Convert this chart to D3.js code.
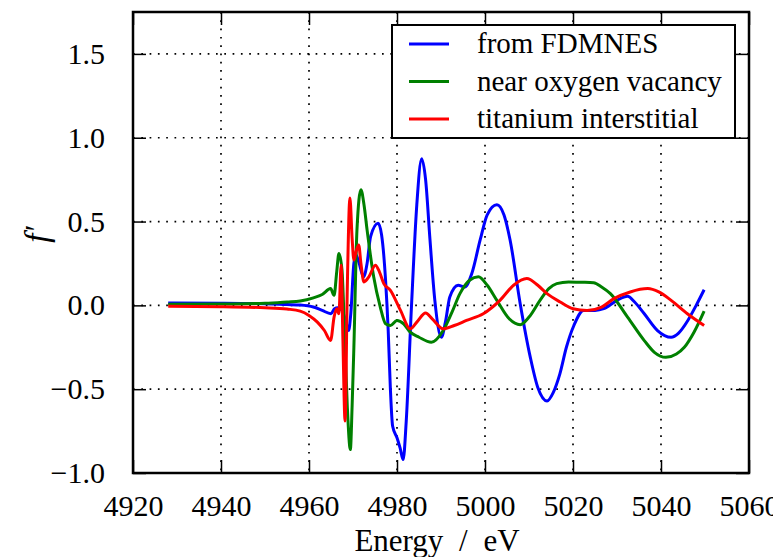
<!DOCTYPE html>
<html>
<head>
<meta charset="utf-8">
<script src="https://cdn.jsdelivr.net/npm/d3@7"></script>
<style>
  html, body { margin: 0; padding: 0; background: #fff; }
  svg { display: block; }
  text { font-family: "Liberation Serif", "DejaVu Serif", serif; fill: #000; }
</style>
</head>
<body>
<svg id="chart" width="773" height="557"></svg>
<script>
// ---- data ----
const seriesNames = ["from FDMNES", "near oxygen vacancy", "titanium interstitial"];
const seriesColors = ["#0000ff", "#008000", "#ff0000"];

const blueE = [4928,4940,4950,4955,4958,4961,4963,4965,4965.8,4966.5,4967.5,4968.3,4969,4969.5,4970.2,4970.7,4971.3,4972.4,4973.2,4974,4975.7,4976.5,4977.4,4978,4978.5,4979,4980,4980.7,4981.4,4982.1,4983.3,4984.5,4985.6,4986.5,4987.5,4988.6,4990.1,4991,4992,4993.9,4995.4,4997,4998.9,5000.5,5002.7,5004.3,5005.7,5008,5010.3,5012,5014.1,5015.5,5017,5018.5,5020.2,5022.4,5025,5027,5030,5032.4,5034,5036.2,5039.2,5042.3,5044,5046.1,5048,5049.8];
const blueF = [0.014,0.013,0.01,0.005,0.002,-0.01,-0.03,-0.05,-0.02,-0.014,-0.03,-0.09,-0.15,-0.05,0.25,0.3,0.26,0.17,0.25,0.41,0.49,0.42,0.15,-0.15,-0.5,-0.72,-0.79,-0.85,-0.92,-0.69,0.0,0.6,0.875,0.75,0.39,0.03,-0.19,-0.1,0.05,0.12,0.11,0.19,0.39,0.54,0.6,0.54,0.39,0.01,-0.31,-0.49,-0.57,-0.52,-0.41,-0.25,-0.12,-0.03,-0.03,-0.02,0.03,0.054,0.02,-0.05,-0.15,-0.19,-0.165,-0.09,0.0,0.093];

const greenE = [4928,4940,4950,4955,4958,4961,4963,4964.9,4965.7,4966.3,4966.8,4967.5,4968,4968.7,4969.4,4969.8,4970.2,4970.9,4971.8,4972.5,4973.2,4974.7,4976.2,4977.4,4978.5,4980,4981.5,4983,4985,4987.8,4990.5,4992.5,4994.3,4996.5,4998.5,5000.5,5002.7,5005.5,5008,5010,5012.5,5014.5,5016.3,5019,5022,5024.7,5026.5,5028.5,5032.4,5036.2,5038.5,5041.1,5043.5,5045.3,5047.5,5049.8];
const greenF = [0.006,0.008,0.012,0.02,0.026,0.045,0.065,0.1,0.06,0.2,0.31,0.21,-0.1,-0.6,-0.86,-0.6,-0.25,0.45,0.69,0.6,0.45,0.17,-0.01,-0.11,-0.12,-0.09,-0.11,-0.16,-0.19,-0.22,-0.15,-0.04,0.07,0.15,0.17,0.12,0.03,-0.08,-0.115,-0.07,0.03,0.1,0.13,0.14,0.138,0.135,0.11,0.07,-0.07,-0.21,-0.28,-0.31,-0.29,-0.25,-0.16,-0.034];

const redE = [4928,4940,4950,4955,4958,4960,4961.9,4963.5,4964.9,4965.7,4966.3,4966.8,4967.3,4967.7,4968.2,4968.7,4969.3,4969.8,4970.2,4970.8,4971.3,4971.8,4972.5,4973.6,4975.1,4976,4977,4978.5,4980.8,4983,4984.5,4986.5,4988,4990.5,4993,4995.8,4999.6,5003.4,5006.5,5009.5,5012,5014.1,5017.1,5020,5023.2,5026.5,5029.3,5033,5037,5039.5,5042.3,5046,5049.8];
const redF = [-0.006,-0.008,-0.014,-0.022,-0.034,-0.06,-0.1,-0.15,-0.21,-0.07,-0.02,-0.05,0.24,-0.2,-0.69,0.1,0.64,0.4,0.27,0.33,0.36,0.25,0.14,0.17,0.24,0.2,0.13,0.09,-0.03,-0.14,-0.1,-0.046,-0.08,-0.14,-0.12,-0.09,-0.05,0.03,0.12,0.16,0.12,0.07,0.02,-0.02,-0.03,-0.01,0.04,0.08,0.1,0.08,0.03,-0.05,-0.12];

const xTicks = [4920,4940,4960,4980,5000,5020,5040,5060];
const yTicks = [-1.0,-0.5,0.0,0.5,1.0,1.5];
const xLabel = "Energy / eV";
const yLabel = "f\u2032";

// ---- layout ----
const svg = d3.select("#chart");
const L = 133, R = 749, T = 12, B = 473;
const x = d3.scaleLinear().domain([4920, 5060]).range([L, R]);
const y = d3.scaleLinear().domain([-1.0, 1.75]).range([B, T]);

const series = [
  {name: seriesNames[0], color: seriesColors[0], pts: blueE.map((e,i)=>[e, blueF[i]])},
  {name: seriesNames[1], color: seriesColors[1], pts: greenE.map((e,i)=>[e, greenF[i]])},
  {name: seriesNames[2], color: seriesColors[2], pts: redE.map((e,i)=>[e, redF[i]])}
];

// grid
const grid = svg.append("g");
grid.selectAll("line.gx").data(xTicks.slice(1, -1)).enter().append("line")
  .attr("x1", d=>x(d)).attr("x2", d=>x(d)).attr("y1", T).attr("y2", B)
  .attr("stroke", "#000").attr("stroke-width", 1.7).attr("stroke-dasharray", "1.7,6.6");
grid.selectAll("line.gy").data(yTicks.slice(1)).enter().append("line")
  .attr("x1", L).attr("x2", R).attr("y1", d=>y(d)).attr("y2", d=>y(d))
  .attr("stroke", "#000").attr("stroke-width", 1.7).attr("stroke-dasharray", "1.7,6.6");

// curves
svg.append("clipPath").attr("id", "clip").append("rect")
  .attr("x", L).attr("y", T).attr("width", R - L).attr("height", B - T);
const line = d3.line().x(d=>x(d[0])).y(d=>y(d[1])).curve(d3.curveMonotoneX);
svg.append("g").attr("clip-path", "url(#clip)")
  .selectAll("path").data(series).enter().append("path")
  .attr("d", d=>line(d.pts)).attr("fill", "none")
  .attr("stroke", d=>d.color).attr("stroke-width", 3).attr("stroke-linejoin", "round");

// axes (inward ticks, mirrored)
const tickLen = 13;
const fmtY = v => (v < 0 ? "\u2212" : "") + Math.abs(v).toFixed(1);
const axB = d3.axisBottom(x).tickValues(xTicks).tickSize(-tickLen).tickPadding(tickLen + 9).tickFormat(d3.format("d"));
const axT = d3.axisTop(x).tickValues(xTicks).tickSize(-tickLen).tickFormat("");
const axL = d3.axisLeft(y).tickValues(yTicks).tickSize(-tickLen).tickPadding(tickLen + 15).tickFormat(fmtY);
const axR = d3.axisRight(y).tickValues(yTicks).tickSize(-tickLen).tickFormat("");

function styleAxis(g) {
  g.select(".domain").remove();
  g.selectAll(".tick line").attr("stroke", "#000").attr("stroke-width", 1.5);
  g.selectAll("text").style("font-size", "30px").attr("fill", "#000")
    .style("font-family", "'Liberation Serif', 'DejaVu Serif', serif");
}
svg.append("g").attr("transform", `translate(0,${B})`).call(axB).call(styleAxis)
  .selectAll("text").attr("dy", "0.71em");
svg.append("g").attr("transform", `translate(0,${T})`).call(axT).call(styleAxis);
svg.append("g").attr("transform", `translate(${L},0)`).call(axL).call(styleAxis);
svg.append("g").attr("transform", `translate(${R},0)`).call(axR).call(styleAxis);

// frame
svg.append("rect").attr("x", L).attr("y", T).attr("width", R - L).attr("height", B - T)
  .attr("fill", "none").attr("stroke", "#000").attr("stroke-width", 2.5);

// axis labels
svg.append("text").attr("x", 437).attr("y", 551).attr("text-anchor", "middle")
  .style("font-size", "31px").style("word-spacing", "8px").text(xLabel);
svg.append("text").attr("transform", `translate(48,${(T + B) / 2 - 8}) rotate(-90)`)
  .attr("text-anchor", "middle").style("font-size", "33px").style("font-style", "italic").text(yLabel);

// legend
const lg = svg.append("g");
lg.append("rect").attr("x", 392).attr("y", 25).attr("width", 343).attr("height", 113)
  .attr("fill", "#fff").attr("stroke", "#000").attr("stroke-width", 2);
const rows = lg.selectAll("g.row").data(series).enter().append("g")
  .attr("transform", (d, i) => `translate(0,${44 + i * 37.5})`);
rows.append("line").attr("x1", 409).attr("x2", 449).attr("y1", 0).attr("y2", 0)
  .attr("stroke", d=>d.color).attr("stroke-width", 3);
rows.append("text").attr("x", 477).attr("y", 9).style("font-size", "29px").text(d=>d.name);
</script>
</body>
</html>
